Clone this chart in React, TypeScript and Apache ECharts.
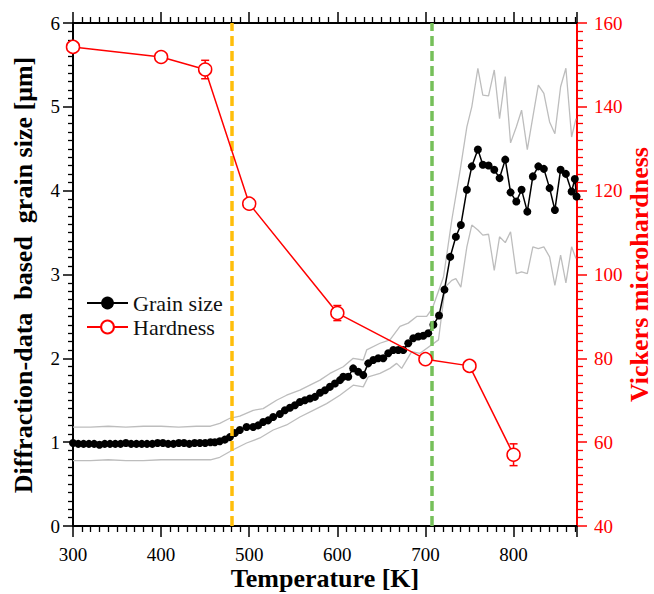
import { useEffect, useRef } from "react";
import * as echarts from "echarts";

// Grain size (diffraction based), temperature [K] and size [µm]
const grainT = [
  300, 306, 312, 318, 324, 330, 336, 342, 348, 354, 360, 366, 372, 378, 384, 390, 396, 402, 408, 414,
  420, 426, 432, 438, 444, 450, 456, 461,
  466.6, 472.3, 478.0, 483.7, 489.3, 497.0, 504.5, 510.1, 515.8, 521.5, 527.2, 534.8, 540.5, 546.2,
  551.9, 557.5, 563.2, 568.9, 574.6, 580.3, 586.0, 591.6, 597.3, 603.0, 606.7, 612.4, 618.0, 623.7,
  629.4, 635.1, 640.8, 646.4, 652.1, 657.8, 663.5, 669.2, 674.8, 680.5, 686.2, 691.9, 697.5, 703.2,
  709.0, 715.4, 721.6, 728.1, 734.5, 740.2, 747.0, 752.6, 759.5, 765.1, 771.6, 778.1, 784.1, 790.6,
  796.6, 803.1, 809.1, 815.6, 821.9, 828.1, 834.4, 840.9, 846.9, 853.4, 859.4, 865.9, 869.5, 871.5,
];
const grainSize = [
  0.99, 0.98, 0.98, 0.98, 0.98, 0.97, 0.98, 0.98, 0.98, 0.98, 0.99, 0.98, 0.98, 0.98, 0.98, 0.98, 0.99, 0.99, 0.98, 0.98,
  0.99, 0.99, 0.98, 0.99, 0.99, 0.99, 1.0, 1.0,
  1.01, 1.03, 1.06, 1.11, 1.145, 1.18, 1.18, 1.2, 1.24, 1.26, 1.3, 1.335, 1.38, 1.41,
  1.44, 1.48, 1.5, 1.52, 1.54, 1.59, 1.62, 1.66, 1.7, 1.74, 1.78, 1.78, 1.88, 1.84,
  1.8, 1.94, 1.98, 2.0, 2.0, 2.06, 2.1, 2.1, 2.1, 2.18, 2.24, 2.26, 2.27, 2.3,
  2.4, 2.51, 2.82, 3.21, 3.45, 3.59, 4.01, 4.29, 4.49, 4.31, 4.3, 4.25, 4.15, 4.37,
  3.98, 3.87, 4.01, 3.75, 4.17, 4.29, 4.26, 4.03, 3.77, 4.25, 4.2, 3.99, 4.14, 3.93,
];

// Upper / lower grey envelope
const upperT = [
  300, 320, 340, 360, 380, 400, 420, 440, 456, 466.6, 478, 489.3, 504.5, 515.8, 531, 542.4, 557.5, 568.9,
  580.3, 591.6, 606.7, 618, 629.4, 633.3, 648.4, 659.7, 671.1, 680.5, 690.1, 701.4, 708, 720.5, 729.9,
  739.5, 747, 752.6, 759.5, 765.1, 771.6, 778.1, 784.1, 790.6, 796.6, 803.1, 809.1, 815.6, 821.9, 828.1,
  834.4, 840.9, 846.9, 853.4, 859.4, 865.9, 870.8,
];
const upperV = [
  1.18, 1.18, 1.19, 1.18, 1.19, 1.19, 1.18, 1.19, 1.19, 1.225, 1.285, 1.31, 1.38, 1.4, 1.5, 1.56, 1.62, 1.68,
  1.74, 1.82, 1.9, 2.0, 1.98, 2.1, 2.18, 2.22, 2.38, 2.42, 2.5, 2.5, 2.6, 2.97, 3.65,
  4.25, 4.76, 5.0, 5.46, 5.14, 5.13, 5.44, 4.86, 5.36, 4.57, 4.76, 4.96, 4.49, 4.88, 5.26,
  5.16, 4.82, 4.68, 5.24, 5.46, 4.64, 4.86,
];
const lowerT = [
  300, 320, 340, 360, 380, 400, 420, 440, 456, 466.6, 481.7, 497, 512.1, 527.2, 542.4, 557.5, 572.6, 587.8,
  602.9, 618, 629.4, 635.1, 648.4, 659.7, 667.3, 673, 684.4, 693.8, 714.8, 722.4, 729.9, 734.5, 740.2,
  747, 752.6, 759.5, 765.1, 771.6, 778.1, 784.1, 790.6, 796.6, 803.1, 809.1, 815.6, 821.9, 828.1,
  834.4, 840.9, 846.9, 853.4, 859.4, 865.9, 870.8,
];
const lowerV = [
  0.78, 0.78, 0.79, 0.78, 0.78, 0.79, 0.79, 0.79, 0.79, 0.82, 0.91, 0.99, 1.05, 1.145, 1.205, 1.3, 1.38, 1.46,
  1.56, 1.68, 1.66, 1.78, 1.82, 1.88, 1.94, 1.88, 2.08, 2.06, 2.22, 2.85, 2.93, 2.95, 2.85,
  3.33, 3.59, 3.53, 3.47, 3.48, 3.05, 3.45, 3.38, 3.51, 3.01, 3.03, 3.01, 3.33, 3.31,
  3.33, 3.21, 2.87, 3.23, 2.9, 3.33, 3.19,
];

// Vickers microhardness
const hardT = [300, 400, 450, 500, 600, 700, 750, 800];
const hardV = [154.3, 151.9, 148.9, 116.9, 90.8, 79.8, 78.2, 57.0];
const hardErr = [0, 0, 2.2, 1.1, 1.8, 0, 0, 2.6];

// vertical dashed markers
const markerT = [480, 707.5];
const markerColors = ["#FFBE0B", "#76C05A"];

const FONT = '"Liberation Serif", "Times New Roman", serif';

export default function App() {
  const ref = useRef<HTMLDivElement>(null);

  useEffect(() => {
    const chart = echarts.init(ref.current!, null, { renderer: "svg" });
    const zip = (a: number[], b: number[]) => a.map((v, i) => [v, b[i]]);
    const errData = hardT
      .map((t, i) => [t, hardV[i] - hardErr[i], hardV[i] + hardErr[i], hardErr[i]])
      .filter((d) => d[3] > 0);

    const xCommon = {
      type: "value",
      min: 300,
      max: 872,
      interval: 100,
      splitLine: { show: false },
      axisLine: { show: true, onZero: false, lineStyle: { color: "#000", width: 2 } },
      axisTick: { show: true, inside: false, length: 11, lineStyle: { color: "#000", width: 1.5 } },
      minorTick: { show: true, splitNumber: 10, length: 6, lineStyle: { color: "#000", width: 1.3 } },
    };

    chart.setOption({
      animation: false,
      backgroundColor: "#fff",
      grid: { left: 73, right: 77, top: 23, bottom: 68, outerBoundsMode: "none" },
      legend: {
        data: ["Grain size", "Hardness"],
        orient: "vertical",
        left: 81,
        top: 287,
        itemWidth: 41,
        itemHeight: 16,
        itemGap: 2,
        selectedMode: false,
        textStyle: { fontFamily: FONT, fontSize: 22, color: "#111" },
      },
      xAxis: [
        {
          ...xCommon,
          position: "bottom",
          axisLabel: {
            show: true,
            fontFamily: FONT,
            fontSize: 19,
            color: "#000",
            margin: 19,
            showMaxLabel: false,
          },
        },
        {
          ...xCommon,
          position: "top",
          axisLabel: { show: false },
        },
      ],
      yAxis: [
        {
          type: "value",
          position: "left",
          min: 0,
          max: 6,
          interval: 1,
          splitLine: { show: false },
          axisLine: { show: true, onZero: false, lineStyle: { color: "#000", width: 2 } },
          axisTick: { show: true, inside: false, length: 10, lineStyle: { color: "#000", width: 1.5 } },
          minorTick: { show: true, splitNumber: 10, length: 5, lineStyle: { color: "#000", width: 1.3 } },
          axisLabel: { fontFamily: FONT, fontSize: 19, color: "#000", margin: 13 },
        },
        {
          type: "value",
          position: "right",
          min: 40,
          max: 160,
          interval: 20,
          splitLine: { show: false },
          axisLine: { show: true, onZero: false, lineStyle: { color: "#FF0000", width: 2 } },
          axisTick: { show: true, inside: false, length: 10, lineStyle: { color: "#FF0000", width: 1.5 } },
          minorTick: { show: true, splitNumber: 10, length: 6, lineStyle: { color: "#FF0000", width: 1.3 } },
          axisLabel: { fontFamily: FONT, fontSize: 19, color: "#FF0000", margin: 17 },
        },
      ],
      graphic: [
        {
          type: "text",
          x: 23,
          y: 275,
          rotation: Math.PI / 2,
          style: {
            text: "Diffraction-data\u00A0 based\u00A0 grain size [\u03BCm]",
            fontFamily: FONT,
            fontWeight: "bold",
            fontSize: 26,
            fill: "#000",
            textAlign: "center",
            textVerticalAlign: "middle",
            align: "center",
            verticalAlign: "middle",
          },
        },
        {
          type: "text",
          x: 639,
          y: 274.5,
          rotation: Math.PI / 2,
          style: {
            text: "Vickers microhardness",
            fontFamily: FONT,
            fontWeight: "bold",
            fontSize: 26,
            fill: "#FF0000",
            textAlign: "center",
            textVerticalAlign: "middle",
            align: "center",
            verticalAlign: "middle",
          },
        },
        {
          type: "text",
          x: 325,
          y: 578,
          style: {
            text: "Temperature [K]",
            fontFamily: FONT,
            fontWeight: "bold",
            fontSize: 26,
            fill: "#000",
            textAlign: "center",
            textVerticalAlign: "middle",
            align: "center",
            verticalAlign: "middle",
          },
        },
      ],
      series: [
        {
          name: "Upper band",
          type: "line",
          xAxisIndex: 0,
          yAxisIndex: 0,
          data: zip(upperT, upperV),
          symbol: "none",
          silent: true,
          z: 1,
          lineStyle: { color: "#BDBDBD", width: 1.3 },
          markLine: {
            silent: true,
            symbol: ["none", "none"],
            label: { show: false },
            emphasis: { disabled: true },
            data: markerT.map((t, i) => ({
              xAxis: t,
              lineStyle: { color: markerColors[i], type: [10, 5], width: 3.5 },
            })),
          },
        },
        {
          name: "Lower band",
          type: "line",
          xAxisIndex: 0,
          yAxisIndex: 0,
          data: zip(lowerT, lowerV),
          symbol: "none",
          silent: true,
          z: 1,
          lineStyle: { color: "#BDBDBD", width: 1.3 },
        },
        {
          name: "Grain size",
          type: "line",
          xAxisIndex: 0,
          yAxisIndex: 0,
          data: zip(grainT, grainSize),
          symbol: "circle",
          symbolSize: 8,
          z: 3,
          itemStyle: { color: "#000" },
          lineStyle: { color: "#000", width: 1.5 },
        },
        {
          name: "Hardness error",
          type: "custom",
          xAxisIndex: 0,
          yAxisIndex: 1,
          z: 4,
          silent: true,
          data: errData,
          renderItem: (params: any, api: any) => {
            const x = api.value(0);
            const lo = api.coord([x, api.value(1)]);
            const hi = api.coord([x, api.value(2)]);
            const w = 4;
            const style = { stroke: "#FF0000", lineWidth: 1.5 };
            return {
              type: "group",
              children: [
                { type: "line", shape: { x1: lo[0], y1: lo[1], x2: hi[0], y2: hi[1] }, style },
                { type: "line", shape: { x1: hi[0] - w, y1: hi[1], x2: hi[0] + w, y2: hi[1] }, style },
                { type: "line", shape: { x1: lo[0] - w, y1: lo[1], x2: lo[0] + w, y2: lo[1] }, style },
              ],
            };
          },
        },
        {
          name: "Hardness",
          type: "line",
          xAxisIndex: 0,
          yAxisIndex: 1,
          data: zip(hardT, hardV),
          symbol: "circle",
          symbolSize: 13,
          z: 5,
          itemStyle: { color: "#fff", borderColor: "#FF0000", borderWidth: 1.5 },
          lineStyle: { color: "#FF0000", width: 1.5 },
        },
      ],
    });
    return () => chart.dispose();
  }, []);

  return (
    <div
      ref={ref}
      style={{ position: "fixed", left: 0, top: 0, width: 654, height: 594, background: "#fff" }}
    />
  );
}
